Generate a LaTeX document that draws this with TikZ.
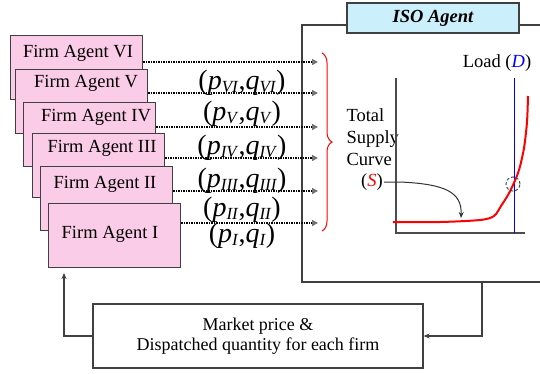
\documentclass[tikz,border=0pt]{standalone}
\usepackage{fontspec}
\setmainfont{Liberation Serif}
\usetikzlibrary{arrows.meta,decorations.pathreplacing}
\newcommand{\firmcolor}{magenta!20!white}
\newcommand{\isocolor}{cyan!20!white}
\newcommand{\edgecolor}{black!75}
\newcommand{\pq}[1]{(\textit{p}\raisebox{-3pt}{\fontsize{17}{17}\selectfont\textit{#1}},\textit{q}\raisebox{-3pt}{\fontsize{17}{17}\selectfont\textit{#1}})}

\begin{document}
\begin{tikzpicture}[x=1pt, y=-1pt, >={Stealth[length=6pt,width=5pt]},
    firm/.style={draw=\edgecolor, line width=1.3pt, fill=\firmcolor, minimum width=132pt, minimum height=64pt, anchor=north west, inner sep=0pt},
    firmtext/.style={font=\fontsize{18.5}{22}\selectfont},
    pair/.style={font=\fontsize{28}{30}\selectfont},
    feed/.style={line width=1.5pt, dash pattern=on 1.3pt off 1.2pt, -{Triangle[length=6pt,width=6pt,color=black!55]}},
    link/.style={draw=\edgecolor, line width=1.3pt, ->}]
    \useasboundingbox (0,0) rectangle (540,373);

    % firm agents
    \node[firm] (fVI) at (10,35) {};
    \node[firmtext] (tVI) at (78,53) {Firm Agent VI};
    \node[firm] (fV) at (15,69) {};
    \node[firmtext] (tV) at (86,83) {Firm Agent V};
    \node[firm] (fIV) at (23,102) {};
    \node[firmtext] (tIV) at (96,117) {Firm Agent IV};
    \node[firm] (fIII) at (32,133) {};
    \node[firmtext] (tIII) at (102,148) {Firm Agent III};
    \node[firm] (fII) at (40,166) {};
    \node[firmtext] (tII) at (105,184) {Firm Agent II};
    \node[firm] (fI) at (48,203) {};
    \node[firmtext] (tI) at (110,234) {Firm Agent I};

    % ISO agent
    \draw[draw=\edgecolor, line width=1.5pt] (541,25) -- (302,25) -- (302,282) -- (541,282);
    \coordinate (isoout) at (482,282);
    \node[draw=\edgecolor, line width=1.3pt, fill=\isocolor, minimum width=172pt, minimum height=30pt, font=\fontsize{18.5}{20}\selectfont\bfseries\itshape] (iso) at (433,18) {ISO Agent};

    % bids
    \coordinate (aVI) at (318,62);
    \coordinate (aV) at (318,93);
    \coordinate (aIV) at (318,127);
    \coordinate (aIII) at (318,158);
    \coordinate (aII) at (318,191);
    \coordinate (aI) at (318,223);
    \draw[feed] (fVI.north east |- aVI) -- (aVI);
    \draw[feed] (fV.north east |- aV) -- (aV);
    \draw[feed] (fIV.north east |- aIV) -- (aIV);
    \draw[feed] (fIII.north east |- aIII) -- (aIII);
    \draw[feed] (fII.north east |- aII) -- (aII);
    \draw[feed] (fI.north east |- aI) -- (aI);
    \node[pair] (pVI) at (242,83) {\pq{VI}};
    \node[pair] (pV) at (242,114) {\pq{V}};
    \node[pair] (pIV) at (242,148) {\pq{IV}};
    \node[pair] (pIII) at (242,181) {\pq{III}};
    \node[pair] (pII) at (242,210) {\pq{II}};
    \node[pair] (pI) at (242,236) {\pq{I}};

    % supply curve
    \draw[red, line width=1pt, decorate, decoration={brace, amplitude=10pt}] (322,53) -- (322,231);
    \node[firmtext, align=left, anchor=west] (tsc) at (343,137) {Total\\Supply\\Curve};
    \node[firmtext, anchor=east, inner sep=1pt] (S) at (384,182) {(\textcolor{red}{\textit{S}})};
    \node[firmtext] (load) at (497,63) {Load (\textcolor{blue}{\textit{D}})};
    \draw[black!70, line width=1.5pt] (396,78) -- (396,233) -- (525,233);
    \draw[blue, line width=1pt] (514,78) -- (514,233);
    \draw[red, line width=2pt] plot[smooth, tension=0.5] coordinates {(393,222) (440,222) (480,220) (494,216) (501,206) (508,195) (513,185) (519,170) (524,148) (527,122) (528,96)};
    \node[draw=black!70, densely dashed, line width=1pt, circle, minimum size=14pt, inner sep=0pt] (eq) at (513,184) {};
    \coordinate (tip) at (461,218);
    \draw[black!80, line width=1pt, ->] (S.east) -- (400,182) .. controls (445,184) and (462,192) .. (tip);

    % dispatch
    \node[draw=\edgecolor, line width=1.3pt, minimum width=330pt, minimum height=64pt, align=center, font=\fontsize{18}{20}\selectfont] (mk) at (258,336) {Market price \&\\Dispatched quantity for each firm};
    \draw[link] (isoout) |- (mk.east);
    \coordinate (back) at (64,273);
    \draw[link] (mk.west) -| (back);
\end{tikzpicture}
\end{document}
